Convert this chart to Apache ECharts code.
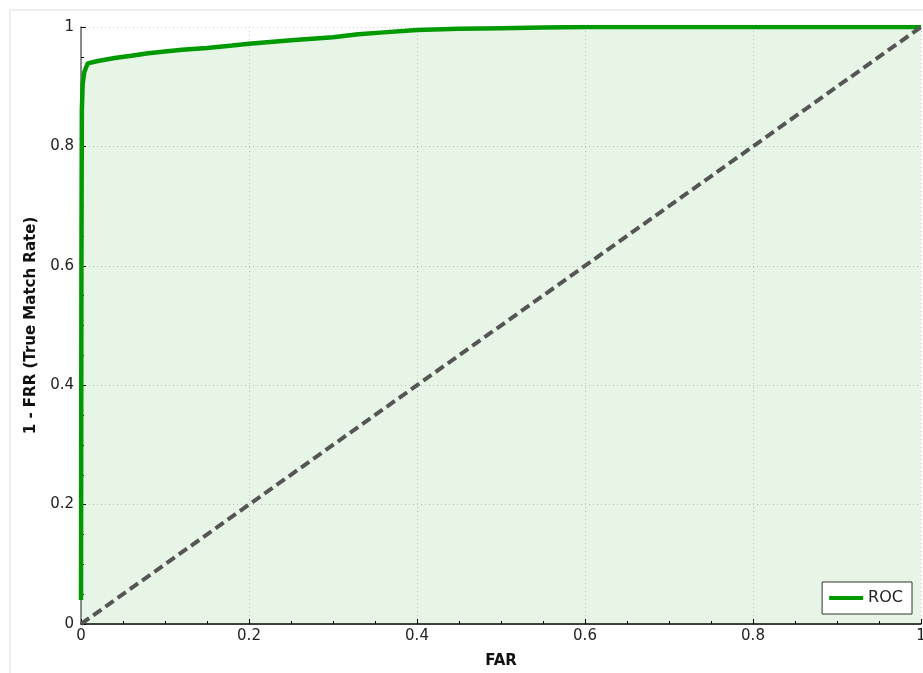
<!DOCTYPE html>
<html>
<head>
<meta charset="utf-8">
<script src="https://cdn.jsdelivr.net/npm/echarts@6/dist/echarts.min.js"></script>
<style>
  html, body { margin: 0; padding: 0; background: #fff; }
  #chart { width: 923px; height: 673px; }
</style>
</head>
<body>
<div id="chart"></div>
<script>
// ROC curve: false accept rate vs. 1 - false reject rate
const far = [0, 0.0005, 0.001, 0.002, 0.004, 0.008, 0.02, 0.04, 0.06, 0.08, 0.10, 0.12, 0.15, 0.18, 0.20, 0.25, 0.30, 0.33, 0.36, 0.40, 0.45, 0.50, 0.55, 0.60, 0.80, 1.0];
const tmr = [0.04, 0.60, 0.86, 0.905, 0.925, 0.939, 0.943, 0.948, 0.952, 0.956, 0.959, 0.962, 0.965, 0.969, 0.972, 0.978, 0.983, 0.988, 0.991, 0.995, 0.997, 0.998, 0.999, 1.0, 1.0, 1.0];
// chance line
const chanceX = [0, 1];
const chanceY = [0, 1];

const rocData = far.map((x, i) => [x, tmr[i]]);
const chanceData = chanceX.map((x, i) => [x, chanceY[i]]);

const fmt = v => String(v);
const font = 'DejaVu Sans';

const chart = echarts.init(document.getElementById('chart'), null, { renderer: 'canvas' });
chart.setOption({
  animation: false,
  backgroundColor: '#fff',
  graphic: [{
    type: 'rect',
    shape: { x: 10, y: 10, width: 1000, height: 1000 },
    style: { fill: 'none', stroke: '#efefef', lineWidth: 2 },
    z: -10
  }],
  grid: { left: 81, right: 2, top: 27, bottom: 49, containLabel: false, outerBoundsMode: 'none' },
  legend: {
    data: ['ROC'],
    right: 11,
    bottom: 59,
    orient: 'vertical',
    backgroundColor: '#fff',
    borderColor: '#333',
    borderWidth: 1,
    borderRadius: 0,
    padding: [8, 9, 8, 7],
    itemWidth: 34,
    itemHeight: 4,
    itemGap: 8,
    icon: 'rect',
    textStyle: { fontFamily: font, fontSize: 16, color: '#222' }
  },
  xAxis: {
    type: 'value',
    min: 0, max: 1, interval: 0.2,
    name: 'FAR',
    nameLocation: 'middle',
    nameGap: 30,
    nameTextStyle: { fontFamily: font, fontSize: 15, fontWeight: 'bold', color: '#111' },
    axisLine: { show: true, onZero: false, lineStyle: { color: '#000', width: 1.5 } },
    axisTick: { show: true, inside: true, length: 5, lineStyle: { color: '#000' } },
    minorTick: { show: true, splitNumber: 4, length: 3, lineStyle: { color: '#000' } },
    axisLabel: { fontFamily: font, fontSize: 15, color: '#222', margin: 5, formatter: fmt },
    splitLine: { show: true, lineStyle: { color: '#c8c8c8', type: [1, 3], width: 1 } }
  },
  yAxis: {
    type: 'value',
    min: 0, max: 1, interval: 0.2,
    name: '1 - FRR (True Match Rate)',
    nameLocation: 'middle',
    nameGap: 42,
    nameRotate: 90,
    nameTextStyle: { fontFamily: font, fontSize: 15, fontWeight: 'bold', color: '#111' },
    axisLine: { show: true, onZero: false, lineStyle: { color: '#666', width: 1.5 } },
    axisTick: { show: true, inside: true, length: 5, lineStyle: { color: '#000' } },
    minorTick: { show: true, splitNumber: 4, length: 3, lineStyle: { color: '#000' } },
    axisLabel: { fontFamily: font, fontSize: 15, color: '#222', margin: 7, formatter: fmt },
    splitLine: { show: true, lineStyle: { color: '#c8c8c8', type: [1, 3], width: 1 } }
  },
  series: [
    {
      name: 'ROC',
      type: 'line',
      data: rocData,
      showSymbol: false,
      symbol: 'none',
      smooth: false,
      clip: true,
      itemStyle: { color: '#009a00' },
      lineStyle: { color: '#009a00', width: 4.5 },
      areaStyle: { color: 'rgba(0,150,0,0.14)', origin: 'start' },
      z: 2
    },
    {
      name: 'chance',
      type: 'line',
      data: chanceData,
      showSymbol: false,
      symbol: 'none',
      clip: true,
      lineStyle: { color: '#555', width: 4, type: [10, 5] },
      z: 3
    }
  ]
});
</script>
</body>
</html>
